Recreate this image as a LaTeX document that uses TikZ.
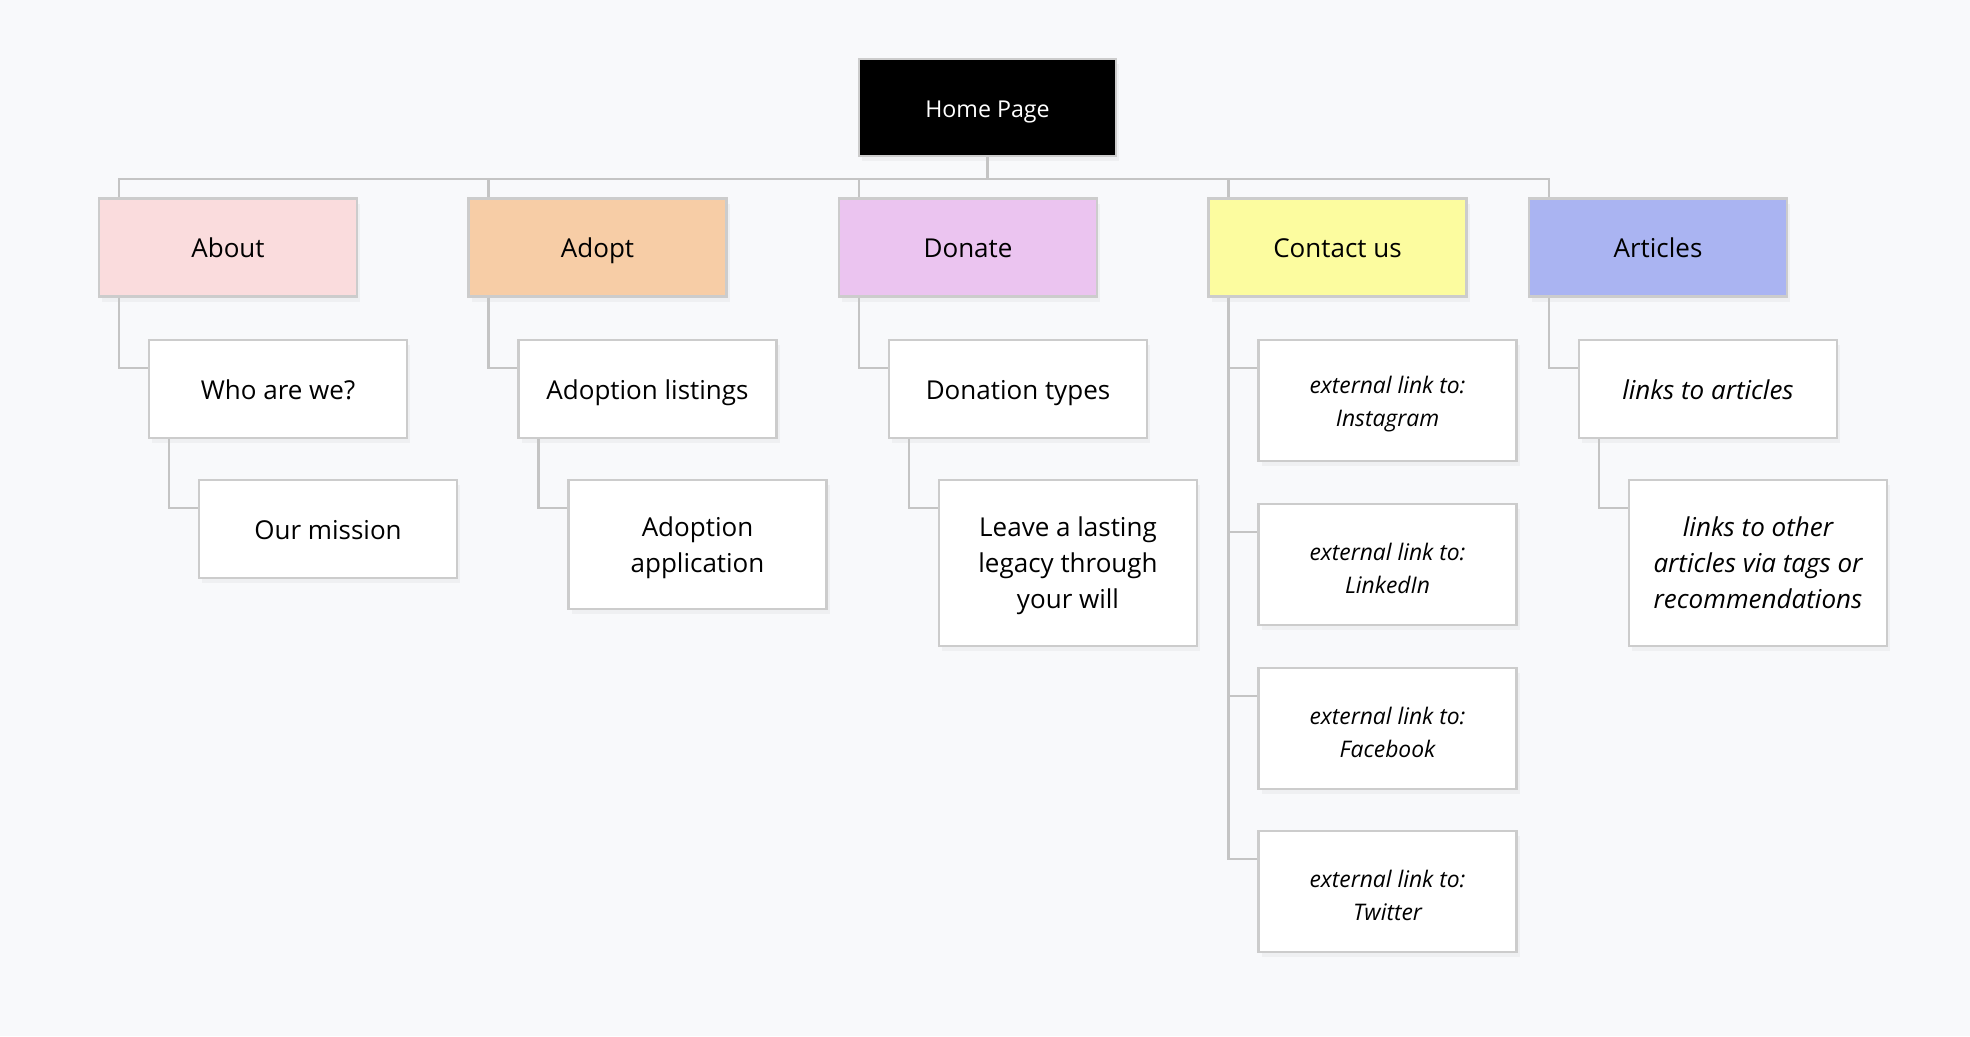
\documentclass[tikz,border=0pt]{standalone}
\usepackage{fontspec}
\setmainfont{Open Sans}
\usetikzlibrary{shadows}
\definecolor{bgGray}{HTML}{F8F9FB}
\definecolor{boxLine}{HTML}{CCCCCC}
\definecolor{linkLine}{HTML}{C4C4C4}
\definecolor{aboutC}{HTML}{FADCDD}
\definecolor{adoptC}{HTML}{F7CDA6}
\definecolor{donateC}{HTML}{EBC4F0}
\definecolor{contactC}{HTML}{FCFC9F}
\definecolor{articlesC}{HTML}{AAB4F2}
\newcommand{\topgap}{\rule{0pt}{7.2pt}}

\begin{document}
\begin{tikzpicture}
  [baseN/.style={rectangle,draw=boxLine,line width=0.6pt,fill=white,
     minimum width=2.58cm,minimum height=0.98cm,align=center,
     font=\fontsize{7.4}{10.2}\selectfont,
     drop shadow={shadow xshift=0.03cm,shadow yshift=-0.05cm,opacity=0.07}},
   pageN/.style={baseN,text height=1.6ex,text depth=0.5ex},
   subN/.style={pageN,anchor=north},
   multiN/.style={baseN,anchor=north},
   extN/.style={multiN,minimum height=1.21cm,font=\fontsize{6.5}{9.4}\selectfont\itshape},
   link/.style={draw=linkLine,line width=0.7pt}]

  \fill[bgGray] (0,0) rectangle (19.7,-10.36);

  \node[pageN,fill=black,text=white,minimum width=2.57cm,minimum height=0.97cm,
        font=\fontsize{6.6}{9}\selectfont] (home) at (9.875,-1.075) {Home Page};

  \node[pageN,fill=aboutC]    (about)    at (2.28,-2.475)  {About};
  \node[pageN,fill=adoptC]    (adopt)    at (5.975,-2.475) {Adopt};
  \node[pageN,fill=donateC]   (donate)   at (9.68,-2.475)  {Donate};
  \node[pageN,fill=contactC]  (contact)  at (13.375,-2.475) {Contact us};
  \node[pageN,fill=articlesC] (articles) at (16.58,-2.475) {Articles};

  \node[subN] (who)      at (2.78,-3.39)   {Who are we?};
  \node[subN] (mission)  at (3.28,-4.79)   {Our mission};
  \node[subN] (listings) at (6.475,-3.39)  {Adoption listings};
  \node[multiN,minimum height=1.29cm] (application) at (6.975,-4.79) {\topgap Adoption\\application};
  \node[subN] (types)    at (10.18,-3.39)  {Donation types};
  \node[multiN,minimum height=1.66cm] (legacy) at (10.68,-4.79) {\topgap Leave a lasting\\legacy through\\your will};
  \node[extN] (insta)    at (13.875,-3.39) {\topgap external link to:\\Instagram};
  \node[extN] (linkedin) at (13.875,-5.03) {\topgap external link to:\\LinkedIn};
  \node[extN] (facebook) at (13.875,-6.67) {\topgap external link to:\\Facebook};
  \node[extN] (twitter)  at (13.875,-8.30) {\topgap external link to:\\Twitter};
  \node[subN,font=\fontsize{7.4}{10.2}\selectfont\itshape] (artlinks) at (17.08,-3.39) {links to articles};
  \node[multiN,minimum height=1.66cm,font=\fontsize{7.4}{10.2}\selectfont\itshape] (other) at (17.58,-4.79)
    {links to other\\articles via tags or\\recommendations};

  % bus from the home page
  \foreach \sec in {about,adopt,donate,contact,articles}
    \draw[link] (home.south) -- ++(0,-0.22) -| ([xshift=0.21cm]\sec.north west);

  % elbows down to the sub pages
  \draw[link] ([xshift=0.21cm]about.south west)    |- ([yshift=-0.29cm]who.north west);
  \draw[link] ([xshift=0.21cm]who.south west)      |- ([yshift=-0.29cm]mission.north west);
  \draw[link] ([xshift=0.21cm]adopt.south west)    |- ([yshift=-0.29cm]listings.north west);
  \draw[link] ([xshift=0.21cm]listings.south west) |- ([yshift=-0.29cm]application.north west);
  \draw[link] ([xshift=0.21cm]donate.south west)   |- ([yshift=-0.29cm]types.north west);
  \draw[link] ([xshift=0.21cm]types.south west)    |- ([yshift=-0.29cm]legacy.north west);
  \foreach \ext in {insta,linkedin,facebook,twitter}
    \draw[link] ([xshift=0.21cm]contact.south west) |- ([yshift=-0.29cm]\ext.north west);
  \draw[link] ([xshift=0.21cm]articles.south west) |- ([yshift=-0.29cm]artlinks.north west);
  \draw[link] ([xshift=0.21cm]artlinks.south west) |- ([yshift=-0.29cm]other.north west);

\end{tikzpicture}
\end{document}
